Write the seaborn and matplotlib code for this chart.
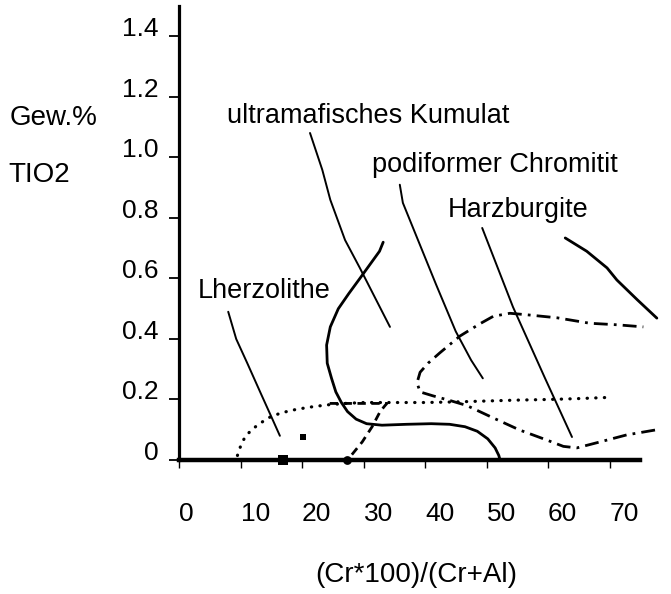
import matplotlib
matplotlib.use("Agg")
import matplotlib.pyplot as plt
import seaborn as sns

# --- Daten ---
# Lherzolith-Feld, Begrenzung gepunktet
dot_x = [9.5, 10.0, 10.7, 11.8, 13.1, 14.6, 16.5, 18.5, 21, 24, 27, 30, 35, 40, 45, 50, 55, 60, 65, 70]
dot_y = [0.015, 0.045, 0.075, 0.10, 0.12, 0.14, 0.155, 0.165, 0.174, 0.182, 0.187, 0.19, 0.19,
         0.19, 0.192, 0.195, 0.198, 0.20, 0.203, 0.207]

# ultramafisches Kumulat, durchgezogen
cum_x = [33.2, 32.6, 31.0, 29.4, 27.6, 25.9, 24.6, 24.0, 24.1, 24.8, 25.5, 26.4, 27.4, 28.8,
         30.5, 33.0, 37, 41, 44, 46.5, 48.5, 50.2, 51.4, 52.0, 52.2]
cum_y = [0.72, 0.69, 0.645, 0.60, 0.55, 0.50, 0.44, 0.38, 0.32, 0.27, 0.225, 0.19, 0.16, 0.135,
         0.12, 0.115, 0.118, 0.12, 0.118, 0.11, 0.095, 0.07, 0.04, 0.015, 0.0]

# podiformer Chromitit, gestrichelt
pod_x = [24.5, 33.8, 33.5, 32.7, 31.4, 29.8, 27.8]
pod_y = [0.187, 0.187, 0.18, 0.16, 0.11, 0.06, 0.01]

# Harzburgite, strich-punktiert
harz_x = [77.4, 72.8, 68.5, 64.7, 62.5, 59.8, 55.4, 51.1, 46.8, 44.0, 41.3, 39.2, 38.7, 39.2,
          40.5, 42.4, 45.7, 48.9, 51.1, 53.8, 56.6, 61.5, 66.8, 71.2, 75.5]
harz_y = [0.099, 0.083, 0.06, 0.04, 0.045, 0.066, 0.099, 0.139, 0.18, 0.197, 0.212, 0.225, 0.255,
          0.29, 0.32, 0.354, 0.41, 0.45, 0.475, 0.485, 0.48, 0.47, 0.452, 0.447, 0.44]

# Hinweislinien der Beschriftungen
lead_lherz_x = [8.0, 9.3, 11.1, 13.3, 15.1, 16.4]
lead_lherz_y = [0.49, 0.40, 0.32, 0.22, 0.139, 0.08]
lead_cum_x = [21.3, 23.3, 24.6, 27.0, 29.4, 34.3]
lead_cum_y = [1.081, 0.959, 0.86, 0.727, 0.635, 0.44]
lead_pod_x = [35.9, 36.4, 38.6, 41.8, 45.0, 47.5, 49.4]
lead_pod_y = [0.91, 0.85, 0.74, 0.58, 0.425, 0.33, 0.27]
lead_harz1_x = [49.3, 54.3, 59.5, 63.9]
lead_harz1_y = [0.767, 0.506, 0.271, 0.076]
lead_harz2_x = [62.8, 66.3, 69.6, 71.2, 74.5, 77.7]
lead_harz2_y = [0.734, 0.69, 0.635, 0.595, 0.53, 0.469]

# Einzelpunkte
pts_x = [16.9, 27.3, 20.1]
pts_y = [0.0, 0.0, 0.075]
pts_marker = ['s', 'o', 's']
pts_size = [55, 40, 22]

x_ticks = [0, 10, 20, 30, 40, 50, 60, 70]
y_ticks = [0, 0.2, 0.4, 0.6, 0.8, 1.0, 1.2, 1.4]
y_ticklabels = ['0', '0.2', '0.4', '0.6', '0.8', '1.0', '1.2', '1.4']

labels = ['ultramafisches Kumulat', 'podiformer Chromitit', 'Harzburgite', 'Lherzolithe']
label_x = [7.8, 31.4, 43.7, 3.1]
label_y = [1.137, 0.975, 0.826, 0.559]

# --- Stil ---
sns.set_style("ticks")
plt.rcParams['font.family'] = ['Liberation Sans', 'DejaVu Sans']
plt.rcParams['text.color'] = 'black'
plt.rcParams['axes.labelcolor'] = 'black'
plt.rcParams['xtick.color'] = 'black'
plt.rcParams['ytick.color'] = 'black'
plt.rcParams['axes.edgecolor'] = 'black'

fig = plt.figure(figsize=(6.71, 5.94), dpi=100)
ax = fig.add_axes([0.2668, 0.2256, 0.7332, 0.7639])

common = dict(sort=False, estimator=None, color='black', ax=ax, legend=False)

sns.lineplot(x=dot_x, y=dot_y, lw=2.3, linestyle=(0, (0.1, 2.6)), dash_capstyle='round', **common)
sns.lineplot(x=cum_x, y=cum_y, lw=2.0, **common)
sns.lineplot(x=pod_x, y=pod_y, lw=2.0, linestyle=(0, (3, 2)), **common)
sns.lineplot(x=harz_x, y=harz_y, lw=2.0, linestyle=(0, (5, 2.2, 1, 2.2)), **common)

for lx, ly in [(lead_lherz_x, lead_lherz_y), (lead_cum_x, lead_cum_y), (lead_pod_x, lead_pod_y),
               (lead_harz1_x, lead_harz1_y)]:
    sns.lineplot(x=lx, y=ly, lw=1.4, **common)
sns.lineplot(x=lead_harz2_x, y=lead_harz2_y, lw=2.0, **common)

for px, py, m, s in zip(pts_x, pts_y, pts_marker, pts_size):
    ax.scatter([px], [py], marker=m, s=s, color='black', zorder=5, clip_on=False, linewidths=0)

for txt, tx, ty in zip(labels, label_x, label_y):
    ax.text(tx, ty, txt, ha='left', va='center', fontsize=19.5)

# --- Achsen ---
ax.set_xlim(0, 80)
ax.set_ylim(0, 1.5)
sns.despine(ax=ax)
ax.spines['left'].set_linewidth(2.3)
ax.spines['bottom'].set_linewidth(3.2)
ax.spines['bottom'].set_bounds(0, 75)
ax.spines['bottom'].set_zorder(4)

ax.set_xticks(x_ticks)
ax.set_xticklabels([str(v) for v in x_ticks])
ax.set_yticks(y_ticks)
ax.set_yticklabels(y_ticklabels)
ax.tick_params(axis='x', direction='out', length=6, width=1.0, pad=24, labelsize=19)
ax.tick_params(axis='y', direction='out', length=7, width=1.3, pad=8, labelsize=19)
plt.setp(ax.get_xticklabels(), ha='left')
plt.setp(ax.get_yticklabels(), va='baseline')

ax.set_xlabel('(Cr*100)/(Cr+Al)', fontsize=20, va='center')
ax.xaxis.set_label_coords(0.4827, -0.2534)
ax.set_ylabel('')

fig.text(10 / 671, 1 - 118 / 594, 'Gew.%', ha='left', va='center', fontsize=20)
fig.text(8 / 671, 1 - 175 / 594, 'TIO2', ha='left', va='center', fontsize=20)

fig.savefig('out.png', dpi=100)
